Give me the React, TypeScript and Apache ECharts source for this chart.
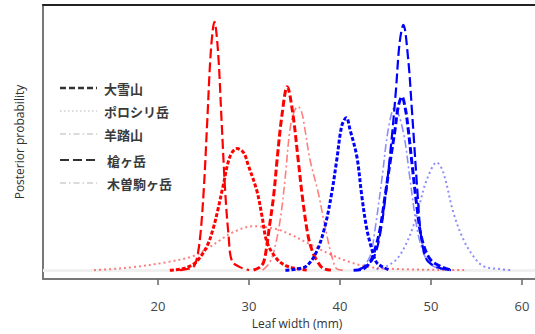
import { useEffect, useRef } from "react";
import * as echarts from "echarts";

// axis ticks (mm)
const xTickValues = [20, 30, 40, 50, 60];
const xMin = 7.36;
const xMax = 61.43;

// legend entries
const legendNames = ["大雪山", "ポロシリ岳", "羊踏山", "槍ヶ岳", "木曽駒ヶ岳"];

// posterior curves, [leaf width (mm), density (relative)]
// red group
const redYari = [[22.4,0],[23.1,1],[23.86,3],[24.25,11],[24.64,34],[25.03,81],[25.42,151],[25.81,220],[26.2,249],[26.59,220],[26.98,151],[27.37,81],[27.76,34],[28.13,9],[29.0,3],[30.0,0]];
const redKiso = [[21.3,0],[22.5,1],[23.52,4],[24.29,9],[25.38,24],[26.04,41],[26.59,61],[27.14,84],[27.91,114],[28.68,122],[29.4,118],[29.89,106],[30.88,79],[31.43,54],[31.98,28],[33.08,11],[34.18,4],[35.6,1],[36.5,0]];
const redPoroshiri = [[12.97,0],[14.73,1],[17.25,3],[20.99,8],[23.85,14],[25.49,22],[26.81,30],[28.24,38],[30.44,44],[32.64,42],[34.51,36],[36.7,26],[38.9,16],[41.1,8],[43.3,3],[46.59,1],[53.74,0]];
const redTaisetsu = [[30.5,0],[31.2,3],[31.6,8],[31.9,21],[32.2,41],[32.7,74],[33.1,112],[33.6,154],[34.2,184],[34.8,158],[35.4,111],[35.9,71],[36.5,34],[37.0,18],[37.5,9],[38.1,2],[39.0,0]];
const redHitsuji = [[31.5,0],[32.3,8],[32.9,25],[33.5,55],[34.0,95],[34.5,141],[35.0,160],[35.4,164],[35.8,158],[36.15,141],[36.7,111],[37.6,78],[38.35,44],[39.1,14],[39.7,1],[40.5,0]];
// blue group
const blueKiso = [[34.0,0],[35.2,1],[36.3,4],[37.4,18],[38.35,44],[39.1,78],[39.65,111],[40.2,145],[40.7,153],[41.1,141],[41.85,114],[42.4,74],[42.95,41],[43.5,21],[44.0,8],[44.7,3],[45.5,0]];
const blueYari = [[42.0,0],[42.6,3],[43.6,11],[44.3,31],[45.0,74],[45.7,134],[46.15,181],[46.55,228],[46.96,246],[47.5,211],[47.9,161],[48.1,134],[48.5,80],[48.9,35],[49.5,11],[50.4,4],[51.5,1],[52.2,0]];
const blueTaisetsu = [[41.5,0],[42.5,1],[43.3,8],[43.85,21],[44.4,41],[44.95,74],[45.5,108],[46.05,141],[46.4,164],[46.8,174],[47.2,161],[47.5,141],[47.9,108],[48.45,64],[49.0,31],[49.9,11],[51.0,4],[52.2,0]];
const blueHitsuji = [[41.5,0],[42.4,3],[43.3,14],[43.85,41],[44.6,91],[45.3,141],[46.0,163],[46.9,141],[47.7,91],[48.25,54],[48.8,28],[49.7,8],[51.0,1],[52.0,0]];
const bluePoroshiri = [[44.0,1],[45.13,4],[46.23,11],[47.14,24],[48.05,44],[48.8,68],[49.55,91],[50.63,108],[51.35,98],[52.45,58],[53.55,31],[54.65,14],[55.75,4],[57.6,1],[58.7,0]];

const RED = "#ff0000";
const RED_LIGHT = "rgba(255,0,0,0.5)";
const BLUE = "#0000ff";
const BLUE_LIGHT = "rgba(0,0,255,0.45)";

const styleBy: Record<string, { width: number; dash: number[]; light: boolean }> = {
  大雪山: { width: 3, dash: [7, 3], light: false },
  ポロシリ岳: { width: 2, dash: [2, 3], light: true },
  羊踏山: { width: 1.6, dash: [8, 3, 2, 3], light: true },
  槍ヶ岳: { width: 2.2, dash: [10, 4], light: false },
  木曽駒ヶ岳: { width: 3, dash: [4, 2], light: false },
};

const curves: { name: string; group: "red" | "blue"; data: number[][] }[] = [
  { name: "ポロシリ岳", group: "red", data: redPoroshiri },
  { name: "羊踏山", group: "red", data: redHitsuji },
  { name: "槍ヶ岳", group: "red", data: redYari },
  { name: "木曽駒ヶ岳", group: "red", data: redKiso },
  { name: "大雪山", group: "red", data: redTaisetsu },
  { name: "ポロシリ岳", group: "blue", data: bluePoroshiri },
  { name: "羊踏山", group: "blue", data: blueHitsuji },
  { name: "槍ヶ岳", group: "blue", data: blueYari },
  { name: "木曽駒ヶ岳", group: "blue", data: blueKiso },
  { name: "大雪山", group: "blue", data: blueTaisetsu },
];

const legendStyle: Record<string, { color: string; width: number; dash: number[]; textX: number }> = {
  大雪山: { color: "#333", width: 2.6, dash: [6, 3], textX: 104 },
  ポロシリ岳: { color: "#b5b5b5", width: 1, dash: [1.5, 2.5], textX: 104 },
  羊踏山: { color: "#b5b5b5", width: 1, dash: [6, 3, 1.5, 3], textX: 104 },
  槍ヶ岳: { color: "#333", width: 2, dash: [9, 4], textX: 107 },
  木曽駒ヶ岳: { color: "#b5b5b5", width: 1, dash: [6, 3, 1.5, 3], textX: 107 },
};
const legendY = [88, 111, 134, 160, 183];

export default function App() {
  const ref = useRef<HTMLDivElement>(null);
  useEffect(() => {
    if (!ref.current) return;
    const chart = echarts.init(ref.current, undefined, { renderer: "svg" });
    const series: any[] = curves.map((c, i) => {
      const s = styleBy[c.name];
      const color = c.group === "red" ? (s.light ? RED_LIGHT : RED) : s.light ? BLUE_LIGHT : BLUE;
      return {
        type: "line",
        name: c.name,
        data: c.data,
        smooth: 0.35,
        symbol: "none",
        z: 3,
        lineStyle: { color, width: s.width, type: s.dash, cap: "butt" },
        markLine:
          i === 0
            ? {
                silent: true,
                symbol: "none",
                label: { show: false },
                lineStyle: { color: "#f0f0f0", width: 3, type: "solid" },
                data: [{ yAxis: 0 }],
                z: 1,
              }
            : undefined,
      };
    });

    const graphics: any[] = [];
    legendNames.forEach((n, i) => {
      const st = legendStyle[n];
      graphics.push({
        type: "line",
        shape: { x1: 60, y1: legendY[i], x2: 97, y2: legendY[i] },
        style: { stroke: st.color, lineWidth: st.width, lineDash: st.dash },
      });
      graphics.push({
        type: "text",
        x: st.textX,
        y: legendY[i],
        style: {
          text: n,
          fill: "#3a3a3a",
          font: 'bold 13px "Noto Sans CJK JP"',
          verticalAlign: "middle",
          align: "left",
        },
      });
    });

    chart.setOption({
      animation: false,
      grid: { left: 43, right: 0, top: 5, bottom: 54, containLabel: false },
      xAxis: [
        {
          type: "value",
          min: xMin,
          max: xMax,
          name: "Leaf width (mm)",
          nameLocation: "middle",
          nameGap: 37,
          nameTextStyle: { fontFamily: "Open Sans", fontSize: 12, color: "#333", padding: [0, 0, 0, 16] },
          axisLine: { show: true, onZero: false, lineStyle: { color: "#777", width: 2 } },
          axisTick: { show: true, customValues: xTickValues, length: 6, lineStyle: { color: "#666", width: 1.5 } },
          axisLabel: {
            customValues: xTickValues,
            margin: 20,
            fontFamily: "Open Sans",
            fontSize: 13,
            color: "#444",
          },
          splitLine: { show: false },
        },
        {
          type: "value",
          position: "top",
          min: xMin,
          max: xMax,
          axisLine: { show: true, onZero: false, lineStyle: { color: "#222", width: 2 } },
          axisTick: { show: false },
          axisLabel: { show: false },
          splitLine: { show: false },
        },
      ],
      yAxis: {
        type: "value",
        min: -9,
        max: 266,
        name: "Posterior probability",
        nameLocation: "middle",
        nameGap: 18,
        nameTextStyle: { fontFamily: "Open Sans", fontSize: 12, color: "#333" },
        axisLine: { show: true, onZero: false, lineStyle: { color: "#777", width: 2 } },
        axisTick: { show: false },
        axisLabel: { show: false },
        splitLine: { show: false },
      },
      series,
      graphic: graphics,
    });
    return () => chart.dispose();
  }, []);
  return <div ref={ref} style={{ width: 535, height: 334, position: "absolute", left: 0, top: 0 }} />;
}
